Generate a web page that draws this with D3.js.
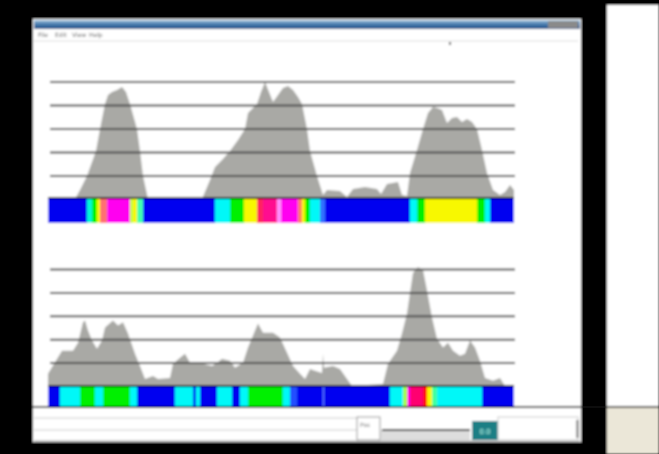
<!DOCTYPE html>
<html><head><meta charset="utf-8">
<script src="https://cdn.jsdelivr.net/npm/d3@7"></script>
<style>html,body{margin:0;padding:0;background:#000;overflow:hidden}</style>
</head><body>
<svg id="c" width="659" height="454"></svg>
<script>
// ---------- data ----------
const menuLabels = ["File", "Edit", "View", "Help"];
const gridTicks = [1, 2, 3, 4, 5];
const positionDomain = [0, 466];
const valueDomain = [0, 5];

const topPositions = [0,27,32,39,48,52,57,60,64,69,74,78,82,89,92,95,100,154,162,167,174,182,190,197,200,209,213,217,221,225,230,235,240,245,250,254,259,262,269,275,279,292,299,305,317,329,333,339,350,354,359,362,369,375,380,385,389,394,399,404,409,414,419,424,429,434,439,445,452,457,462,466];
const topValues    = [0,0,0.38,0.98,2.04,2.98,4.04,4.43,4.55,4.64,4.77,4.55,4.04,2.98,2.04,0.98,0,0,0.81,1.36,1.66,2.04,2.51,2.98,3.66,4.04,4.55,4.98,4.55,4.13,4.43,4.72,4.81,4.64,4.34,4.04,2.98,2.04,0.98,0.17,0.38,0.34,0.09,0.43,0.51,0.43,0.21,0.64,0.72,0.17,0.13,1.11,2.09,2.98,3.66,3.91,3.87,3.79,3.23,3.45,3.49,3.28,3.40,3.28,2.98,2.09,1.11,0.38,0.17,0.30,0.60,0.38];

const bottomPositions = [0,14,25,30,35,37,40,44,49,54,57,65,70,75,80,87,92,97,105,110,122,125,132,137,142,149,155,164,169,174,182,187,195,200,205,210,215,225,232,239,245,252,257,262,267,274,275,276,285,292,299,304,335,340,349,354,359,362,365,370,375,379,384,389,395,400,405,412,417,422,427,432,437,445,452,457,466];
const bottomValues    = [0.52,1.51,1.51,1.85,2.72,2.8,2.37,1.94,1.59,1.94,2.5,2.8,2.59,2.72,2.24,1.38,0.86,0.3,0.43,0.3,0.34,0.95,1.21,1.38,0.99,0.99,0.95,0.86,0.99,1.16,1.08,0.78,0.99,1.64,2.16,2.67,2.28,2.28,2.07,1.42,0.86,0.52,0.3,0.73,0.65,0.56,1.38,0.78,0.86,0.73,0.3,0,0.09,0.95,1.51,2.24,3.1,3.97,4.83,5.09,4.96,4.09,2.93,2.02,1.64,1.85,1.51,1.29,1.38,1.94,1.64,1.08,0.34,0.22,0.34,0,0.05];

const topSegStart = [0,39,44,49,52,59,82,85,89,95,167,182,196,209,215,229,233,250,254,257,262,272,277,362,369,377,429,437,442];
const topSegEnd   = [39,44,49,52,59,82,85,89,95,167,182,196,209,215,229,233,250,254,257,262,272,277,362,369,377,429,437,442,466];
const topSegColor = ["#0000f0","#00f8d8","#00f000","#f8f800","#ff7070","#ff00f0","#c0ff40","#f8f800","#40ffb0","#0000f0","#00f8f8","#00f000","#f8f800","#ff2060","#ff1090","#ff90ff","#ff00f0","#ff8060","#f8f800","#00f000","#00f8f8","#3070ff","#0000f0","#00f8f8","#00f000","#f8f800","#00f000","#00f8f8","#0000f0"];

const botSegStart = [0,12,32,47,55,82,89,127,145,148,152,169,184,192,200,235,242,249,275,276,342,355,359,362,375,379,384,389,434];
const botSegEnd   = [12,32,47,55,82,89,127,145,148,152,169,184,192,200,235,242,249,275,276,342,355,359,362,375,379,384,389,434,466];
const botSegColor = ["#0000f0","#00f8f8","#00f000","#00f8f8","#00f000","#00f8f8","#0000f0","#00f8f8","#0000f0","#00f8f8","#0000f0","#00f8f8","#0000f0","#00f8f8","#00f000","#00f8f8","#2050ff","#0000f0","#6080ff","#0000f0","#00f8f8","#a0ff40","#ff00f0","#ff0070","#ff1010","#f8f800","#40ffa0","#00f8f8","#0000f0"];

const statusLabel = "Pos";
const buttonLabel = "0.0";

// ---------- drawing ----------
const svg = d3.select("#c");
const defs = svg.append("defs");
defs.append("filter").attr("id","blur").attr("x",0).attr("y",0).attr("width",1).attr("height",1)
  .append("feGaussianBlur").attr("stdDeviation",1.0);
const tg = defs.append("linearGradient").attr("id","title").attr("x1",0).attr("x2",0).attr("y1",0).attr("y2",1);
tg.append("stop").attr("offset","0%").attr("stop-color","#a8c8e0");
tg.append("stop").attr("offset","45%").attr("stop-color","#4a7eb0");
tg.append("stop").attr("offset","100%").attr("stop-color","#1e4f86");

const root = svg.append("g").attr("filter","url(#blur)");
root.append("rect").attr("width",659).attr("height",454).attr("fill","#000");
// right region
root.append("rect").attr("x",607).attr("y",5).attr("width",52).attr("height",402).attr("fill","#fff");
root.append("rect").attr("x",607).attr("y",407).attr("width",52).attr("height",47).attr("fill","#ebe7d8");
// window
root.append("rect").attr("x",33).attr("y",19).attr("width",548).attr("height",423).attr("fill","#fff");
root.append("rect").attr("x",34).attr("y",20).attr("width",546).attr("height",9).attr("fill","url(#title)");
root.append("rect").attr("x",548).attr("y",21).attr("width",30).attr("height",7).attr("fill","#8a8a8a");
root.append("line").attr("x1",34).attr("x2",578).attr("y1",41).attr("y2",41).attr("stroke","#ddd");
root.append("g").selectAll("text").data(menuLabels).join("text")
  .attr("x",(d,i)=>38+i*17).attr("y",37).attr("font-family","DejaVu Sans").attr("font-size",6)
  .attr("fill","#666").text(d=>d);
root.append("rect").attr("x",449).attr("y",42).attr("width",2).attr("height",3).attr("fill","#555");

const x = d3.scaleLinear().domain(positionDomain).range([48,514]);

function panel(yRange, positions, values, segStart, segEnd, segColor, barTop, barBottom){
  const y = d3.scaleLinear().domain(valueDomain).range(yRange);
  const pts = positions.map((p,i)=>({p, v: values[i]}));
  const area = d3.area().x(d=>x(d.p)).y0(y(0)).y1(d=>y(d.v)).curve(d3.curveLinear);
  root.append("path").datum(pts).attr("d",area).attr("fill","#a9a9a5");
  const ax = d3.axisLeft(y).tickValues(gridTicks).tickSize(-465).tickFormat("");
  const g = root.append("g").attr("transform","translate(50,0)").call(ax);
  g.select(".domain").remove();
  g.selectAll(".tick line").attr("stroke","#4a4a4a").attr("stroke-width",2);
  const segs = segStart.map((s,i)=>({s, e: segEnd[i], c: segColor[i]}));
  root.append("g").selectAll("rect").data(segs).join("rect")
    .attr("x",d=>x(d.s)).attr("width",d=>x(d.e)-x(d.s))
    .attr("y",barTop).attr("height",barBottom-barTop).attr("fill",d=>d.c);
  root.append("line").attr("x1",x(0)).attr("x2",x(466)).attr("y1",barTop+1).attr("y2",barTop+1)
    .attr("stroke","#111").attr("stroke-width",2);
}
panel([199, 81.5], topPositions, topValues, topSegStart, topSegEnd, topSegColor, 197, 223);
panel([386, 269], bottomPositions, bottomValues, botSegStart, botSegEnd, botSegColor, 385, 408);

// separator line
root.append("line").attr("x1",33).attr("x2",659).attr("y1",407).attr("y2",407).attr("stroke","#111").attr("stroke-width",1.5);
// status area
root.append("line").attr("x1",34).attr("x2",357).attr("y1",418).attr("y2",418).attr("stroke","#ccc");
root.append("line").attr("x1",34).attr("x2",357).attr("y1",430).attr("y2",430).attr("stroke","#ccc");
root.append("line").attr("x1",34).attr("x2",580).attr("y1",441).attr("y2",441).attr("stroke","#999");
root.append("rect").attr("x",357).attr("y",417).attr("width",23).attr("height",23).attr("fill","#fff").attr("stroke","#999");
root.append("text").attr("x",360).attr("y",427).attr("font-family","DejaVu Sans").attr("font-size",6).attr("fill","#777").text(statusLabel);
root.append("rect").attr("x",381).attr("y",430).attr("width",89).attr("height",10).attr("fill","#ddd");
root.append("line").attr("x1",382).attr("x2",470).attr("y1",430).attr("y2",430).attr("stroke","#333").attr("stroke-width",2);
root.append("rect").attr("x",472).attr("y",421).attr("width",26).attr("height",19).attr("fill","#1a7f85");
root.append("text").attr("x",485).attr("y",434).attr("text-anchor","middle").attr("font-family","DejaVu Sans").attr("font-size",7).attr("fill","#bfe").text(buttonLabel);
root.append("rect").attr("x",498).attr("y",417).attr("width",80).attr("height",23).attr("fill","#fff").attr("stroke","#ccc");
root.append("rect").attr("x",576).attr("y",420).attr("width",3).attr("height",18).attr("fill","#999");
</script>
</body></html>
